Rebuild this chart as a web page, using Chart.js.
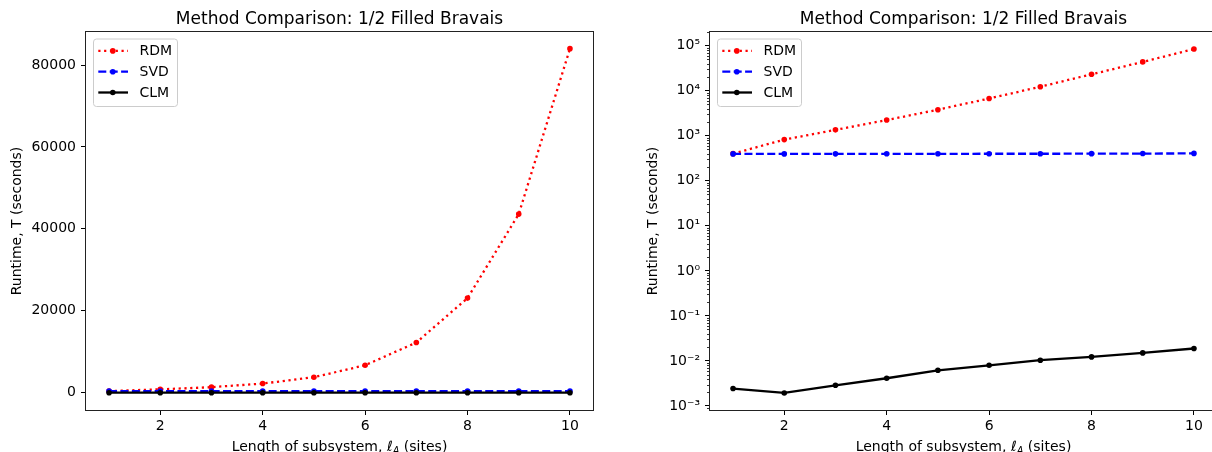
<!DOCTYPE html>
<html>
<head>
<meta charset="utf-8">
<script src="https://cdn.jsdelivr.net/npm/chart.js@4"></script>
<style>
html, body { margin: 0; padding: 0; background: #fff; overflow: hidden; width: 1212px; height: 452px; }
canvas { position: absolute; top: 0; }
#linchart { left: 0; }
#logchart { left: 610px; }
</style>
</head>
<body>
<canvas id="linchart" width="600" height="452"></canvas>
<canvas id="logchart" width="610" height="452"></canvas>
<script>
// data
const sites = [1, 2, 3, 4, 5, 6, 7, 8, 9, 10];
const rdm = [400, 820, 1350, 2230, 3780, 6700, 12250, 23100, 43600, 84000];
const svd = [395, 395, 396, 397, 397, 398, 398, 400, 402, 405];
const clm = [0.00244, 0.00195, 0.00288, 0.00413, 0.0062, 0.0080, 0.0104, 0.0123, 0.0151, 0.0189];
const xTicks = [2, 4, 6, 8, 10];
const linTicks = [0, 20000, 40000, 60000, 80000];
const logTicks = [1e-3, 1e-2, 1e-1, 1e0, 1e1, 1e2, 1e3, 1e4, 1e5];

const FONT = 'DejaVu Sans';
Chart.defaults.font.family = FONT;
Chart.defaults.color = '#000';

const sup = { '-': '\u207B', '0': '\u2070', '1': '\u00B9', '2': '\u00B2', '3': '\u00B3', '4': '\u2074', '5': '\u2075' };
function powLabel(v) {
    const e = String(Math.round(Math.log10(v)));
    return '10' + e.split('').map(c => sup[c]).join('');
}

function pts(arr) {
    return sites.map((x, i) => ({ x: x, y: arr[i] }));
}

function makeSets() {
    return [
        { label: 'RDM', data: pts(rdm), borderColor: '#ff0000', backgroundColor: '#ff0000', borderDash: [2.2, 3.6], order: 3 },
        { label: 'SVD', data: pts(svd), borderColor: '#0000ff', backgroundColor: '#0000ff', borderDash: [8, 3.4], order: 2 },
        { label: 'CLM', data: pts(clm), borderColor: '#000000', backgroundColor: '#000000', borderDash: [], order: 1 }
    ].map(d => Object.assign(d, { borderWidth: 2.3, pointRadius: 2.8, pointHoverRadius: 2.8, pointBorderWidth: 0, tension: 0 }));
}

// frame, minor ticks, legend and titles drawn like matplotlib
const mplFrame = {
    id: 'mplFrame',
    afterDatasetsDraw(chart, args, opts) {
        const ctx = chart.ctx;
        const a = chart.chartArea;
        ctx.save();

        if (opts.minor) {
            const ys = chart.scales.y;
            ctx.strokeStyle = '#000';
            ctx.lineWidth = 0.8;
            for (let n = -4; n <= 5; n++) {
                for (let k = 2; k <= 9; k++) {
                    const v = k * Math.pow(10, n);
                    if (v < ys.min || v > ys.max) continue;
                    const py = Math.round(ys.getPixelForValue(v)) + 0.5;
                    ctx.beginPath();
                    ctx.moveTo(a.left, py);
                    ctx.lineTo(a.left - 3, py);
                    ctx.stroke();
                }
            }
        }

        ctx.strokeStyle = '#222';
        ctx.lineWidth = 1;
        ctx.strokeRect(a.left - 0.5, a.top - 0.5, a.right - a.left + 1, a.bottom - a.top + 1);

        // legend
        const bx = a.left + 7, by = a.top + 6.5;
        ctx.beginPath();
        ctx.roundRect(bx + 0.5, by + 0.5, 84, 67.5, 3);
        ctx.fillStyle = 'rgba(255,255,255,0.8)';
        ctx.fill();
        ctx.strokeStyle = '#cccccc';
        ctx.lineWidth = 1;
        ctx.stroke();
        chart.data.datasets.forEach((d, i) => {
            const ry = by + 12.4 + i * 20.8;
            ctx.strokeStyle = d.borderColor;
            ctx.lineWidth = d.borderWidth;
            ctx.setLineDash(d.borderDash);
            ctx.beginPath();
            ctx.moveTo(bx + 5.3, ry);
            ctx.lineTo(bx + 35, ry);
            ctx.stroke();
            ctx.setLineDash([]);
            ctx.fillStyle = d.backgroundColor;
            ctx.beginPath();
            ctx.arc(bx + 19.8, ry, 2.8, 0, Math.PI * 2);
            ctx.fill();
            ctx.fillStyle = '#000';
            ctx.font = '14px "' + FONT + '"';
            ctx.textAlign = 'left';
            ctx.textBaseline = 'middle';
            ctx.fillText(d.label, bx + 46.5, ry + 0.5);
        });

        // title
        const cx = (a.left + a.right) / 2;
        ctx.fillStyle = '#000';
        ctx.textAlign = 'center';
        ctx.textBaseline = 'alphabetic';
        ctx.font = '17px "' + FONT + '"';
        ctx.fillText('Method Comparison: 1/2 Filled Bravais', cx, 23.8);

        // x axis title with italic l_A
        const parts = [
            { t: 'Length of subsystem, ', f: '14px "' + FONT + '"', dy: 0 },
            { t: '\u2113', f: 'italic 14px "' + FONT + '"', dy: 0 },
            { t: 'A', f: 'italic 9.8px "' + FONT + '"', dy: 2.6 },
            { t: ' (sites)', f: '14px "' + FONT + '"', dy: 0 }
        ];
        let total = 0;
        parts.forEach(p => { ctx.font = p.f; p.w = ctx.measureText(p.t).width; total += p.w; });
        let px = cx - total / 2;
        ctx.textAlign = 'left';
        parts.forEach(p => {
            ctx.font = p.f;
            ctx.fillText(p.t, px, 451 + p.dy);
            px += p.w;
        });

        // y axis title
        ctx.translate(opts.yTitleX, (a.top + a.bottom) / 2);
        ctx.rotate(-Math.PI / 2);
        ctx.textAlign = 'center';
        ctx.textBaseline = 'middle';
        ctx.font = '14px "' + FONT + '"';
        ctx.fillText('Runtime, T (seconds)', 0, 0);
        ctx.restore();
    }
};

function xScale() {
    return {
        type: 'linear',
        min: 0.55,
        max: 10.45,
        afterBuildTicks: s => { s.ticks = xTicks.map(v => ({ value: v })); },
        afterFit: s => { s.height = 42; },
        border: { display: false },
        grid: { drawOnChartArea: false, tickLength: 5, tickColor: '#000', tickWidth: 1 },
        ticks: { color: '#000', font: { size: 14 }, padding: 3, maxRotation: 0, autoSkip: false }
    };
}

function common(yAxis, pad, opts) {
    return {
        responsive: false,
        animation: false,
        events: [],
        layout: { padding: pad },
        scales: { x: xScale(), y: yAxis },
        plugins: { legend: { display: false }, tooltip: { enabled: false }, mplFrame: opts }
    };
}

new Chart(document.getElementById('linchart'), {
    type: 'line',
    data: { datasets: makeSets() },
    options: common({
        type: 'linear',
        min: -4223,
        max: 88060,
        afterBuildTicks: s => { s.ticks = linTicks.map(v => ({ value: v })); },
        afterFit: s => { s.width = 86; },
        border: { display: false },
        grid: { drawOnChartArea: false, tickLength: 5, tickColor: '#000', tickWidth: 1 },
        ticks: { color: '#000', font: { size: 14 }, padding: 5, autoSkip: false, callback: v => String(v) }
    }, { top: 32, right: 7, left: 0, bottom: 0 }, { yTitleX: 17, minor: false }),
    plugins: [mplFrame]
});

new Chart(document.getElementById('logchart'), {
    type: 'line',
    data: { datasets: makeSets() },
    options: common({
        type: 'logarithmic',
        min: 8.15e-4,
        max: 2.01e5,
        afterBuildTicks: s => { s.ticks = logTicks.map(v => ({ value: v })); },
        afterFit: s => { s.width = 100; },
        border: { display: false },
        grid: { drawOnChartArea: false, tickLength: 5, tickColor: '#000', tickWidth: 1 },
        ticks: { color: '#000', font: { size: 14 }, padding: 5, autoSkip: false, callback: v => powLabel(v) }
    }, { top: 32, right: 3, left: 0, bottom: 0 }, { yTitleX: 43, minor: true }),
    plugins: [mplFrame]
});
</script>
</body>
</html>
